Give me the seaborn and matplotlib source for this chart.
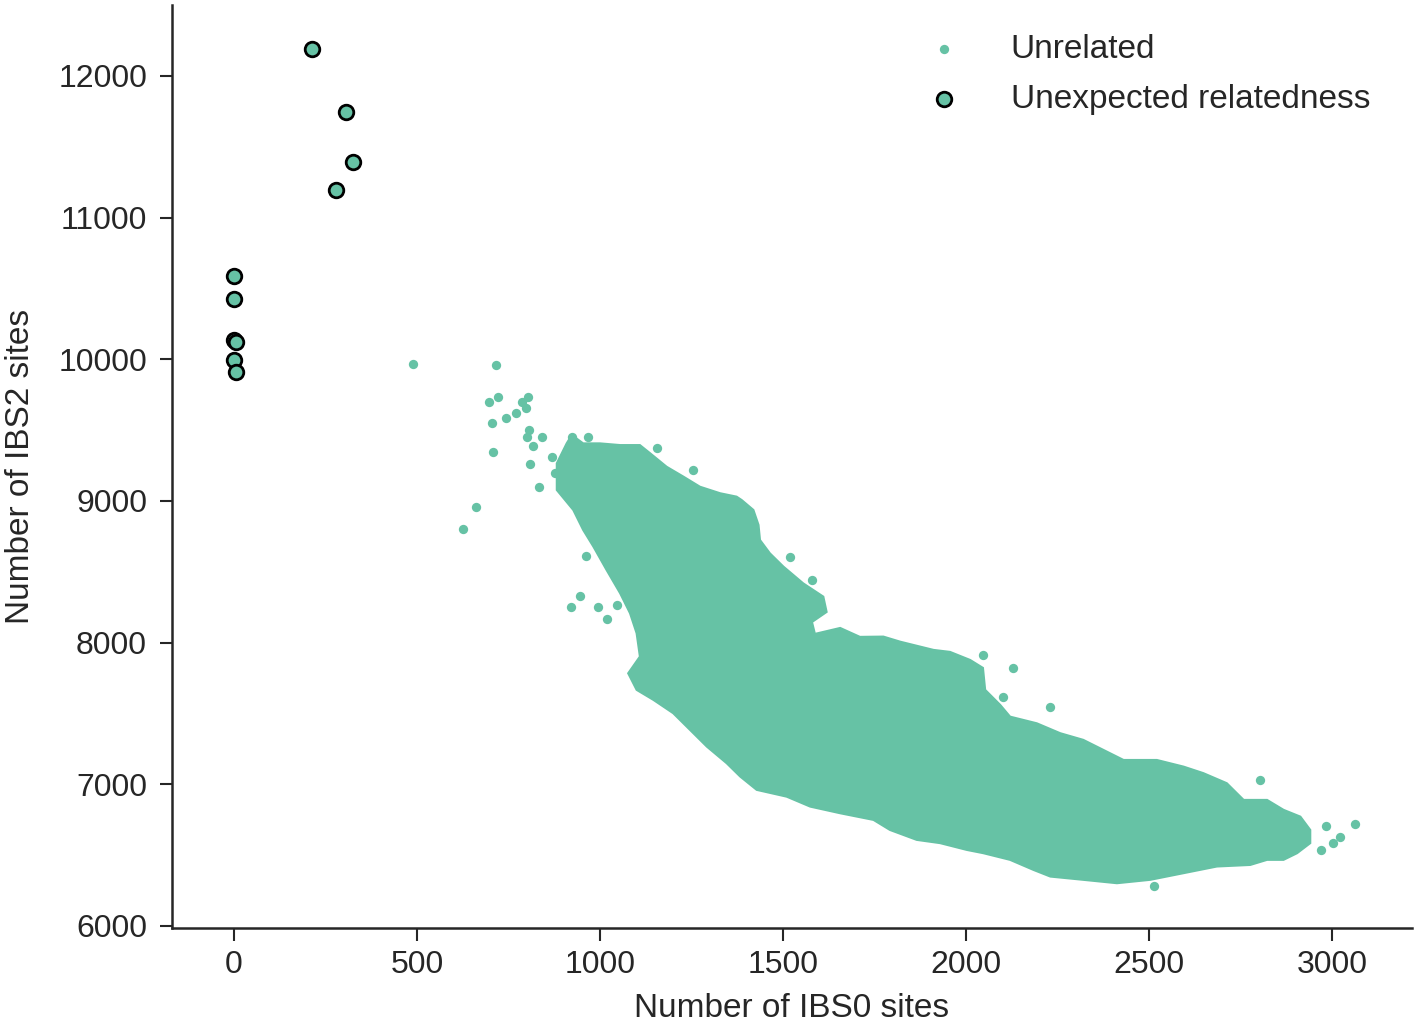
import matplotlib
matplotlib.use("Agg")
import matplotlib.pyplot as plt
import seaborn as sns
import pandas as pd

sns.set_style("ticks")
plt.rcParams["font.family"] = ["Liberation Sans", "DejaVu Sans"]

GREEN = "#66c2a5"

# outline of the dense cloud of unrelated pairs (IBS0, IBS2)
blob_ibs0 = [909, 923, 954, 1000, 1055, 1109, 1137, 1182, 1228, 1273, 1328, 1373,
             1387, 1419, 1433, 1437, 1464, 1501, 1555, 1610, 1619, 1579, 1587, 1656,
             1710, 1774, 1820, 1911, 1956, 2011, 2046, 2052, 2093, 2120, 2193, 2257,
             2320, 2375, 2430, 2521, 2594, 2648, 2712, 2758, 2822, 2867, 2913, 2940,
             2940, 2904, 2867, 2822, 2776, 2685, 2594, 2503, 2412, 2320, 2230, 2184,
             2120, 2047, 2002, 1929, 1865, 1792, 1747, 1656, 1574, 1510, 1428, 1383,
             1346, 1292, 1246, 1200, 1146, 1100, 1077, 1109, 1100, 1082, 1055, 1018,
             982, 954, 927, 882, 882]
blob_ibs2 = [9406, 9465, 9406, 9406, 9394, 9394, 9336, 9241, 9171, 9100, 9054, 9030,
             9006, 8936, 8830, 8724, 8630, 8536, 8418, 8324, 8216, 8145, 8061, 8103,
             8040, 8042, 8006, 7948, 7934, 7877, 7821, 7666, 7560, 7477, 7430, 7360,
             7313, 7242, 7171, 7171, 7124, 7078, 7007, 6889, 6889, 6819, 6771, 6677,
             6584, 6513, 6466, 6466, 6430, 6419, 6372, 6325, 6301, 6325, 6348, 6395,
             6466, 6513, 6536, 6584, 6607, 6677, 6748, 6795, 6842, 6912, 6960, 7054,
             7148, 7265, 7383, 7501, 7595, 7666, 7783, 7901, 8066, 8207, 8348, 8512,
             8677, 8795, 8936, 9077, 9265]

# scattered unrelated pairs outside the cloud
unrel_ibs0 = [488, 715, 697, 721, 705, 742, 770, 786, 804, 797, 707, 806, 800, 842,
              816, 809, 868, 877, 834, 661, 625, 923, 968, 1157, 1255, 961, 945, 921,
              995, 1018, 1047, 1519, 1578, 2102, 3063, 2983, 2969, 3022, 3002, 2803,
              2230, 2514, 2128, 2046]
unrel_ibs2 = [9966, 9959, 9700, 9735, 9552, 9583, 9618, 9700, 9735, 9653, 9347, 9500,
              9453, 9453, 9387, 9260, 9312, 9199, 9100, 8959, 8800, 9453, 9453, 9373,
              9218, 8611, 8329, 8253, 8253, 8164, 8265, 8606, 8442, 7618, 6720, 6706,
              6536, 6626, 6588, 7030, 7548, 6284, 7820, 7912]

# pairs flagged as unexpectedly related
rel_ibs0 = [213, 306, 325, 279, 0, 0, 0, 6, 0, 5]
rel_ibs2 = [12189, 11745, 11392, 11194, 10587, 10425, 10135, 10120, 9994, 9910]

unrel = pd.DataFrame({"ibs0": unrel_ibs0, "ibs2": unrel_ibs2})
rel = pd.DataFrame({"ibs0": rel_ibs0, "ibs2": rel_ibs2})

fig = plt.figure(figsize=(14.18, 10.22), dpi=100)
ax = fig.add_axes([0.1213, 0.092, 0.8745, 0.903])

ax.fill(blob_ibs0, blob_ibs2, color=GREEN, linewidth=1.5, edgecolor=GREEN, zorder=2)
sns.scatterplot(data=unrel, x="ibs0", y="ibs2", color=GREEN, s=45, linewidth=0,
                ax=ax, zorder=3, label="Unrelated")
sns.scatterplot(data=rel, x="ibs0", y="ibs2", color=GREEN, s=110, edgecolor="black",
                linewidth=2.0, ax=ax, zorder=4, label="Unexpected relatedness")

ax.set_xlim(-169, 3218)
ax.set_ylim(5985, 12500)
ax.set_xticks([0, 500, 1000, 1500, 2000, 2500, 3000])
ax.set_yticks([6000, 7000, 8000, 9000, 10000, 11000, 12000])
ax.set_xlabel("Number of IBS0 sites", fontsize=24, labelpad=9)
ax.set_ylabel("Number of IBS2 sites", fontsize=24, labelpad=16)
ax.tick_params(axis="both", labelsize=23, length=9, width=1.5, direction="out")
ax.tick_params(axis="y", pad=9)
ax.tick_params(axis="x", pad=7)
sns.despine(ax=ax)
for side in ["left", "bottom"]:
    ax.spines[side].set_linewidth(1.8)

ax.legend(loc="upper left", bbox_to_anchor=(0.585, 0.983), borderaxespad=0,
          frameon=False, fontsize=24, handletextpad=1.0, labelspacing=0.56)

fig.savefig("out.png", dpi=100)
